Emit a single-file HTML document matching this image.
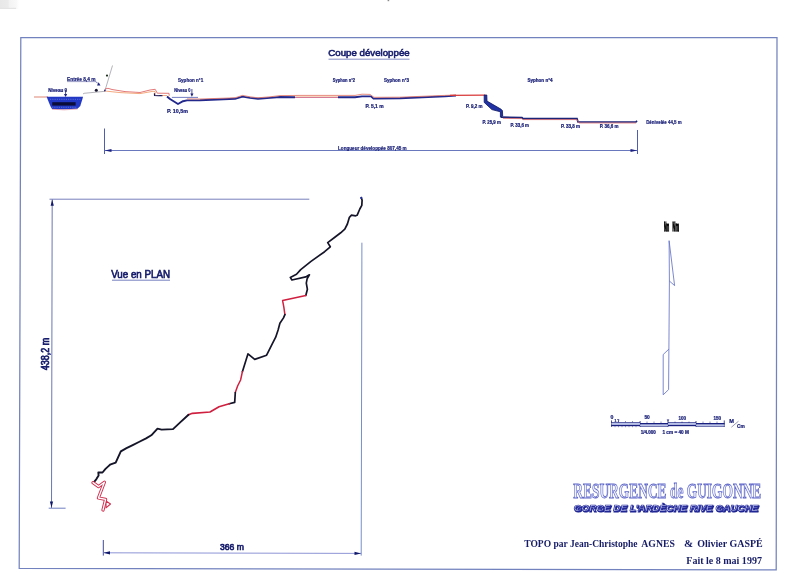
<!DOCTYPE html>
<html><head><meta charset="utf-8"><title>Résurgence de Guigonne</title>
<style>
html,body{margin:0;padding:0;background:#fff;width:800px;height:581px;overflow:hidden}
svg{display:block}
.s{font-family:"Liberation Sans",Arial,sans-serif;font-weight:bold;fill:#1a2078;stroke:#1a2078;stroke-width:0.22}
.n{font-family:"Liberation Sans",Arial,sans-serif;font-weight:normal;fill:#161c6c}
.r{font-family:"Liberation Serif","Times New Roman",serif;font-weight:bold;fill:#161c66}
</style></head>
<body>
<svg width="800" height="581" viewBox="0 0 800 581">
<defs>
<linearGradient id="smg" x1="0" y1="0" x2="1" y2="0">
<stop offset="0" stop-color="#e8e8e8"/><stop offset="0.42" stop-color="#ebebeb"/><stop offset="0.5" stop-color="#f3f3f3"/><stop offset="0.85" stop-color="#f8f8f8"/><stop offset="1" stop-color="#fff"/>
</linearGradient>
</defs>
<rect x="0" y="0" width="19" height="9" fill="url(#smg)"/><rect x="0" y="7.8" width="16" height="1.2" fill="#e4e4e4"/><rect x="387.6" y="0" width="1.6" height="1.2" fill="#8a8a8a"/>
<!-- frame -->
<polygon points="20.8,37.5 777,37.5 776.2,569.8 19.2,568.3" fill="none" stroke="#7282be" stroke-width="1.25"/>

<!-- ===== Coupe développée ===== -->
<text class="n" x="328.3" y="55.6" font-size="9.7" textLength="81.4" lengthAdjust="spacingAndGlyphs" stroke="#161c6c" stroke-width="0.6">Coupe développée</text>
<line x1="328.5" y1="59.2" x2="409.5" y2="59.2" stroke="#7880c0" stroke-width="0.9"/>

<!-- entrance / basin -->
<line x1="34" y1="97" x2="48" y2="97" stroke="#e09080" stroke-width="1.1"/>
<polygon points="46.6,96.7 83.1,96.7 80.3,106 77.5,108.8 64,109.3 52,109 50.6,106.6 49.4,103.8" fill="#2238c4"/>
<path d="M50,99.3 H81 M52,107.3 H77" stroke="#8aa0f0" stroke-width="0.6" stroke-dasharray="0.8 1"/>
<rect x="52.2" y="102.2" width="23.4" height="3.4" fill="#0c0c38"/>
<path d="M52,109.2 Q64,110.6 77.5,109" stroke="#d06070" stroke-width="0.5" fill="none"/>
<polyline points="83,94 84,93.3 105,91.3" fill="none" stroke="#a0a0a8" stroke-width="0.8"/>
<circle cx="96.3" cy="90.2" r="1.5" fill="#151530"/>
<polygon points="97,85.4 100.5,85.4 98.6,82.2" fill="#1c2280"/><line x1="95.2" y1="81.4" x2="97.8" y2="83.2" stroke="#1c2280" stroke-width="0.6"/>
<polyline points="105,90.5 112.5,65.5" fill="none" stroke="#a0a0a8" stroke-width="0.8"/>
<circle cx="107" cy="75.6" r="1.1" fill="#203020"/>
<circle cx="105" cy="90.6" r="1" fill="#1c2280"/>

<!-- roof / floor lines -->
<polyline points="105,89 108,88.3 112,89.5 125,91.6 140,92.5 150,90 155.2,89.3 157.3,93.2 169,93.3 169.2,95.8" fill="none" stroke="#e06a6a" stroke-width="0.9"/>
<polyline points="105,91 120,92.6 140,93.6 153,91.3 155,91.5 155.5,95.5 167,95.5" fill="none" stroke="#f0a070" stroke-width="0.9"/>
<polyline points="154.4,93.2 154.5,95.6 158.5,95.8 160.5,95.6 162.5,95.7" fill="none" stroke="#101860" stroke-width="1.1"/>
<polyline points="167,96.5 170,99 178,104 183,101.2 187,100.4 200,100.2 235,98.8 242.5,96.6 250,97.9 258,98.8 270,97.9 280,97 295,97.3" fill="none" stroke="#22288c" stroke-width="1.9" stroke-linejoin="round"/>
<polyline points="295,97.4 338,97.4" fill="none" stroke="#c85a80" stroke-width="0.9"/><polyline points="295,96.4 338,96.4" fill="none" stroke="#f4c090" stroke-width="0.6"/>
<polyline points="338,97.3 355,97.2 362,96.4 371,96.4 373.5,98.6 400,98.2 445,96.4 456,95.6" fill="none" stroke="#22288c" stroke-width="1.9" stroke-linejoin="round"/>
<polyline points="187,98.9 200,99 235,97.8 242.5,95.4 250,96.8 258,97.8 270,96.8 280,95.6 300,95.4 330,95.4 355,95.4 362,94.2 370,94.4 374,97.3 400,97.2 445,95.4 456,95" fill="none" stroke="#e07060" stroke-width="0.8"/>
<polyline points="450,95.3 485,95.2" fill="none" stroke="#d83838" stroke-width="1.2"/>
<!-- drop -->
<polygon points="484.2,95 486.8,95 487,101.1 501.2,109.3 502.4,110.6 502.7,116 500.4,117.2 500.4,111.8 491.9,109.6 484.2,102.4" fill="#2032a4" stroke="#0e1660" stroke-width="0.8" stroke-linejoin="round"/>
<polyline points="501,117.2 522,117.6 523,118.6 577,118.6 578,122 636,122 637,120.8" fill="none" stroke="#1c2478" stroke-width="1.7"/>
<polyline points="503,118.4 522,118.6 523,119.6 577,119.6 579,123 636,123" fill="none" stroke="#e06060" stroke-width="0.7"/>

<!-- dimension line -->
<line x1="104.5" y1="128.5" x2="104.5" y2="154" stroke="#3a4aa8" stroke-width="0.9"/>
<line x1="637.5" y1="130" x2="637.5" y2="154" stroke="#3a4aa8" stroke-width="0.9"/>
<line x1="104.5" y1="150.5" x2="637.5" y2="150.5" stroke="#5868b4" stroke-width="0.9"/>
<polygon points="104.8,150.5 111.5,148.9 111.5,152.1" fill="#1c2280"/>
<polygon points="637.2,150.5 630.5,148.9 630.5,152.1" fill="#1c2280"/>
<text class="s" x="338" y="149.7" font-size="6.2" textLength="68.7" lengthAdjust="spacingAndGlyphs">Longueur développée 807,45 m</text>

<!-- profile labels -->
<text class="s" x="67" y="81" font-size="5.5" textLength="28.6" lengthAdjust="spacingAndGlyphs">Entrée 8,4 m</text>
<line x1="67" y1="81.6" x2="95.2" y2="81.6" stroke="#1c2280" stroke-width="0.45"/>
<text class="s" x="48.2" y="92" font-size="5.3" textLength="19" lengthAdjust="spacingAndGlyphs">Niveau 0</text>
<line x1="65.6" y1="90" x2="65.6" y2="95" stroke="#1c2280" stroke-width="0.8"/>
<polygon points="64,94 67.2,94 65.6,97" fill="#1c2280"/>

<text class="s" x="178" y="81.8" font-size="5.4" textLength="25.2" lengthAdjust="spacingAndGlyphs">Syphon n°1</text>
<text class="s" x="174.3" y="92.2" font-size="5.1" textLength="16" lengthAdjust="spacingAndGlyphs">Niveau 0</text>
<line x1="191.9" y1="89" x2="191.9" y2="94.5" stroke="#1c2280" stroke-width="0.8"/>
<polygon points="190.3,93.5 193.5,93.5 191.9,96.8" fill="#1c2280"/>
<line x1="171.9" y1="97.4" x2="198" y2="97.4" stroke="#3848a8" stroke-width="0.7"/>
<text class="s" x="167" y="113.2" font-size="5.6" textLength="21" lengthAdjust="spacingAndGlyphs">P. 10,5m</text>

<text class="s" x="332.8" y="82.3" font-size="5.1" textLength="22.2" lengthAdjust="spacingAndGlyphs">Syphon n°2</text>
<text class="s" x="384" y="82" font-size="5.1" textLength="25" lengthAdjust="spacingAndGlyphs">Syphon n°3</text>
<text class="s" x="365.6" y="108" font-size="4.9" textLength="18" lengthAdjust="spacingAndGlyphs">P. 5,1 m</text>
<text class="s" x="527.5" y="81.6" font-size="4.6" textLength="25" lengthAdjust="spacingAndGlyphs">Syphon n°4</text>
<text class="s" x="466.1" y="108" font-size="4.6" textLength="16.4" lengthAdjust="spacingAndGlyphs">P. 9,2 m</text>
<text class="s" x="482.5" y="123.9" font-size="4.6" textLength="18.3" lengthAdjust="spacingAndGlyphs">P. 25,9 m</text>
<text class="s" x="510.6" y="126.6" font-size="4.6" textLength="18.3" lengthAdjust="spacingAndGlyphs">P. 33,6 m</text>
<text class="s" x="561" y="128" font-size="4.6" textLength="19" lengthAdjust="spacingAndGlyphs">P. 33,8 m</text>
<text class="s" x="599.7" y="128" font-size="4.6" textLength="18.8" lengthAdjust="spacingAndGlyphs">P. 36,6 m</text>
<text class="s" x="646.2" y="123.9" font-size="5.8" textLength="35.5" lengthAdjust="spacingAndGlyphs">Dénivelée 44,5 m</text>

<!-- ===== Vue en plan ===== -->
<text class="n" x="111.2" y="277.6" font-size="11" textLength="58.8" lengthAdjust="spacingAndGlyphs" stroke="#161c6c" stroke-width="0.7">Vue en PLAN</text>
<line x1="112" y1="280.2" x2="170" y2="280.2" stroke="#7880c0" stroke-width="1"/>

<!-- plan dimension lines -->
<line x1="49.5" y1="199.2" x2="309.3" y2="199.2" stroke="#7078b8" stroke-width="0.95"/>
<line x1="52.2" y1="199.4" x2="51.5" y2="508" stroke="#6070b0" stroke-width="0.95"/>
<polygon points="52.2,199.6 50.6,205.8 53.8,205.8" fill="#10186a"/>
<polygon points="51.5,507.8 49.9,501.5 53.1,501.5" fill="#10186a"/>
<line x1="48.7" y1="508.2" x2="65.6" y2="508.2" stroke="#6070bc" stroke-width="0.9"/>
<text class="n" transform="translate(49.3,370.3) rotate(-90)" x="0" y="0" font-size="10" textLength="32.4" lengthAdjust="spacingAndGlyphs" stroke="#161c6c" stroke-width="0.7">438,2 m</text>

<line x1="103.3" y1="540" x2="103.3" y2="555.6" stroke="#2a3488" stroke-width="0.9"/>
<line x1="361.9" y1="242.7" x2="361.2" y2="555.6" stroke="#7088c8" stroke-width="0.95"/>
<line x1="103.3" y1="552.8" x2="361.2" y2="553.4" stroke="#8088d0" stroke-width="0.9"/>
<polygon points="103.5,552.8 110,551.2 110,554.4" fill="#10186a"/>
<polygon points="361,553.4 354.5,551.8 354.5,555" fill="#10186a"/>
<text class="n" x="220" y="550.2" font-size="9" textLength="24" lengthAdjust="spacingAndGlyphs" stroke="#161c6c" stroke-width="0.65">366 m</text>

<!-- cave plan -->
<g fill="none" stroke-linejoin="round" stroke-linecap="round">
<polyline points="361.3,197.7 362.1,200.3 361.8,205.4 359.8,209 357.2,215.2 355.6,215.8 351.5,215.2 349.4,217.3 347.4,224 344.8,229.2 340.7,232.8 334.5,237.5 327.7,242.6 330.3,246.8 324.6,251.7 311,261.4 300.7,269.6 296.5,274.3 290.3,277.4 291.9,280 305.8,276.9 309.4,274.8 307.1,278.9 306.3,283.1 307.4,289.3 305.8,295.5" stroke="#15152a" stroke-width="1.7"/>
<polyline points="305.8,295.5 282.6,300.6 283.8,306.8 284.9,314.6" stroke="#d02040" stroke-width="1.5"/>
<polyline points="284.9,314.6 283.5,317.9 279.9,323.3 278.1,330 275.7,337.2 272,344.4 269,350.4 266.6,355.2 254.7,359.4 248,353.8 242.4,371.7" stroke="#15152a" stroke-width="1.7"/>
<polyline points="242.4,371.7 240.6,380 237.6,386 235.3,392.5" stroke="#d02040" stroke-width="1.5"/>
<polyline points="235.3,392.5 234.7,402.4 229.2,403.8" stroke="#15152a" stroke-width="1.7"/>
<polyline points="229.2,403.8 219,406.8 210,412 192.4,413.3 188.5,414.8" stroke="#d02040" stroke-width="1.7"/>
<polyline points="188.5,414.8 180.2,422.4 173,429.1 161.6,429.6 157.5,428.6 151.3,435.3 146.1,438.4 138.9,442 132.7,445.1 126.5,448.2 120.8,451.3 115.7,462.6 110,464.7 108.5,466.1 105.5,468.9 102.5,472.5 98.3,472.5 98.6,475.5 96.4,479.1 94,482.1" stroke="#15152a" stroke-width="1.9"/>
<!-- outlined passage at the end -->
<polyline points="93,482.6 98.6,486.6 104.4,482.2 98.4,498 105.6,499.4 103,510" stroke="#d03050" stroke-width="3.2"/>
<polygon points="106,501 110.5,504 106,507.8" stroke="#d03050" stroke-width="1.1" fill="#fff"/>
<polyline points="93,482.6 98.6,486.6 104.4,482.2 98.4,498 105.6,499.4 103,510" stroke="#fff" stroke-width="1.3"/>
</g>
<circle cx="361.3" cy="197.9" r="1.1" fill="#2030a0"/>

<!-- ===== North arrow ===== -->
<text x="664" y="231" font-family="Liberation Sans,sans-serif" font-weight="bold" font-size="13.6" textLength="5.2" lengthAdjust="spacingAndGlyphs" fill="#000" stroke="#000" stroke-width="1.3">Nm</text>
<text x="672.6" y="231" font-family="Liberation Sans,sans-serif" font-weight="bold" font-size="13.6" textLength="6.4" lengthAdjust="spacingAndGlyphs" fill="#000" stroke="#000" stroke-width="1.3">Nm</text>
<polyline points="669.4,281 669.1,240.7 674.6,285.6 669.4,281 668.9,349.1 663.2,354.5 663.2,394.8 668.6,389.6 668.9,349.1" fill="none" stroke="#6472c8" stroke-width="0.85" stroke-linejoin="round"/>

<!-- ===== Scale bar ===== -->
<g fill="#1a2080">
<rect x="611.4" y="422.3" width="28.6" height="0.8"/>
<rect x="611.4" y="424.6" width="28.6" height="1.6"/>
<rect x="640" y="423" width="28" height="1.6"/>
<rect x="640" y="425.8" width="28" height="0.8"/>
<rect x="668" y="422.3" width="28" height="0.8"/>
<rect x="668" y="424.6" width="28" height="1.6"/>
<rect x="696" y="423" width="28.6" height="1.6"/>
<rect x="696" y="425.8" width="28.6" height="0.8"/>
<rect x="611.2" y="420.4" width="0.8" height="6.4"/>
<rect x="723.8" y="420.4" width="0.8" height="6.4"/>
<rect x="639.7" y="421" width="0.8" height="5.8"/>
<rect x="667.6" y="421" width="0.8" height="5.8"/>
<rect x="695.6" y="421" width="0.8" height="5.8"/>
</g>
<g fill="#b4bee8">
<rect x="611.4" y="423.1" width="28.6" height="1.5"/>
<rect x="640" y="424.6" width="28" height="1.2"/>
<rect x="668" y="423.1" width="28" height="1.5"/>
<rect x="696" y="424.6" width="28.6" height="1.2"/>
</g>
<path d="M618.5,421 v1.3 M625.5,421 v1.3 M632.5,421 v1.3 M647,421.5 v1.5 M654,421.5 v1.5 M661,421.5 v1.5 M675,421.5 v1.5 M682,421.5 v1.5 M689,421.5 v1.5 M703,421.5 v1.5 M710,421.5 v1.5 M717,421.5 v1.5 M615,426.2 v1 M618.5,426.2 v1 M622,426.2 v1 M625.5,426.2 v1 M629,426.2 v1 M632.5,426.2 v1 M636,426.2 v1" stroke="#1a2080" stroke-width="0.5"/>
<text class="s" x="610.6" y="419.4" font-size="5.2">0</text>
<polygon points="666.7,419.6 669.3,419.6 668,421.4" fill="#1a2080"/>
<text class="s" x="644.4" y="419.4" font-size="5.2" textLength="5.4" lengthAdjust="spacingAndGlyphs">50</text>
<text class="s" x="678.5" y="419.8" font-size="5.2" textLength="7.6" lengthAdjust="spacingAndGlyphs">100</text>
<text class="s" x="713.5" y="419.8" font-size="5.2" textLength="7.6" lengthAdjust="spacingAndGlyphs">150</text>
<text class="s" x="614.5" y="421.6" font-size="3.4">1 ?</text>
<text class="s" x="729.3" y="422.7" font-size="5.4" textLength="4.7" lengthAdjust="spacingAndGlyphs">M</text>
<line x1="731.4" y1="427.2" x2="738.5" y2="421.2" stroke="#50508a" stroke-width="0.6"/>
<text class="s" x="737" y="428.1" font-size="5.4" textLength="7.8" lengthAdjust="spacingAndGlyphs">Cm</text>
<text class="s" x="640.7" y="434.1" font-size="4.8" textLength="15.2" lengthAdjust="spacingAndGlyphs">1/4.000</text><text class="s" x="662.4" y="434.1" font-size="4.8" textLength="26.5" lengthAdjust="spacingAndGlyphs">1 cm = 40 M</text>

<!-- ===== Title block ===== -->
<text x="573.3" y="498.3" font-family="Liberation Serif,serif" font-weight="bold" font-size="20.5" textLength="188" lengthAdjust="spacingAndGlyphs" fill="#f0f2ff" stroke="#6068c8" stroke-width="0.85">RESURGENCE de GUIGONNE</text>
<text x="574.5" y="511.9" font-family="Liberation Sans,sans-serif" font-weight="bold" font-style="italic" font-size="8.3" textLength="184.4" lengthAdjust="spacingAndGlyphs" fill="#1c2290" stroke="#1c2290" stroke-width="1" aria-hidden="true">GORGE DE L'ARDÈCHE RIVE GAUCHE</text>
<text x="573.8" y="511.1" font-family="Liberation Sans,sans-serif" font-weight="bold" font-style="italic" font-size="8.3" textLength="184.4" lengthAdjust="spacingAndGlyphs" fill="#f4f6ff" stroke="#2a30a0" stroke-width="0.7">GORGE DE L'ARDÈCHE RIVE GAUCHE</text>
<text class="r" x="524.3" y="547.4" font-size="11" textLength="113.3" lengthAdjust="spacingAndGlyphs">TOPO par Jean-Christophe</text>
<text class="r" x="641.3" y="547.4" font-size="11" textLength="33.6" lengthAdjust="spacingAndGlyphs">AGNES</text>
<text class="r" x="683.9" y="547.4" font-size="11">&amp;</text>
<text class="r" x="697.2" y="547.4" font-size="11" textLength="65.5" lengthAdjust="spacingAndGlyphs">Olivier GASPÉ</text>
<text class="r" x="686.3" y="563.7" font-size="11" textLength="75.6" lengthAdjust="spacingAndGlyphs">Fait le 8 mai 1997</text>
</svg>
</body></html>
